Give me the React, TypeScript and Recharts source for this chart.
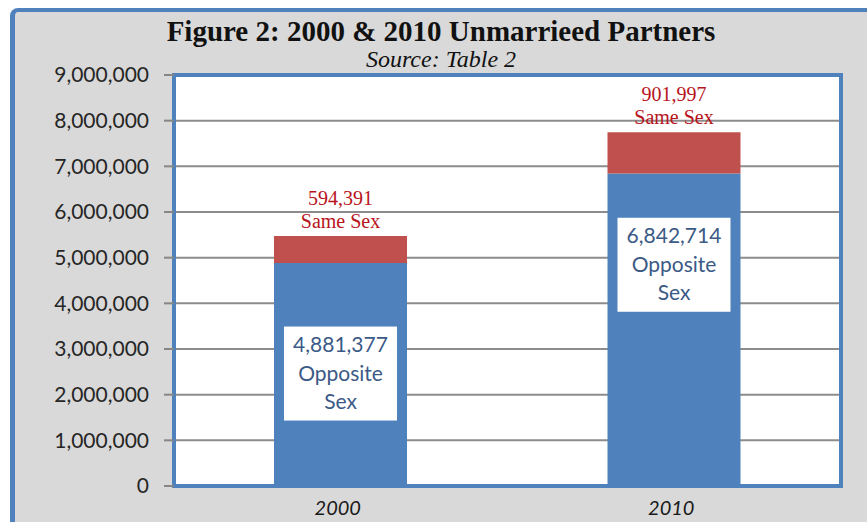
import React from 'react';
import { BarChart, Bar, XAxis, YAxis, CartesianGrid, LabelList, ReferenceArea } from 'recharts';

const categories = ['2000', '2010'];
const oppositeSex = [4881377, 6842714];
const sameSex = [594391, 901997];
const yTicks = [0, 1000000, 2000000, 3000000, 4000000, 5000000, 6000000, 7000000, 8000000, 9000000];

const title = 'Figure 2: 2000 & 2010 Unmarrieed Partners';
const subtitle = 'Source: Table 2';
const sameLabel = 'Same Sex';
const oppositeLabelLines = ['Opposite', 'Sex'];

const data = categories.map((c, i) => ({ year: c, opposite: oppositeSex[i], same: sameSex[i] }));

const BLUE = '#4f81bd';
const RED = '#c0504d';
const SANS = 'Lato, "Open Sans", sans-serif';
const SERIF = '"Liberation Serif", "Times New Roman", serif';
// manual label nudges (style only), per category
const OPP_LABEL_SHIFT = [-1, -65];

const fmt = (v: number) => Number(v).toLocaleString('en-US');

const OppositeLabel = (props: any) => {
  const { x, y, width, height, value, index } = props;
  const cx = Number(x) + Number(width) / 2;
  const cy = Number(y) + Number(height) / 2 + (OPP_LABEL_SHIFT[index] || 0);
  const bw = 113;
  const bh = 94;
  return (
    <g>
      <rect x={cx - bw / 2} y={cy - bh / 2} width={bw} height={bh} fill="#ffffff" />
      <text x={cx} y={cy - 21.5} textAnchor="middle" fontFamily={SANS} fontSize={21} fill="#3b5a86">
        {fmt(value)}
      </text>
      <text x={cx} y={cy + 7.5} textAnchor="middle" fontFamily={SANS} fontSize={21} fill="#3b5a86">
        {oppositeLabelLines[0]}
      </text>
      <text x={cx} y={cy + 35.5} textAnchor="middle" fontFamily={SANS} fontSize={21} fill="#3b5a86">
        {oppositeLabelLines[1]}
      </text>
    </g>
  );
};

const SameLabel = (props: any) => {
  const { x, y, width, value } = props;
  const cx = Number(x) + Number(width) / 2;
  const top = Number(y);
  return (
    <g>
      <text x={cx} y={top - 31} textAnchor="middle" fontFamily={SERIF} fontSize={20} fill="#b8141c">
        {fmt(value)}
      </text>
      <text x={cx} y={top - 8} textAnchor="middle" fontFamily={SERIF} fontSize={20} fill="#b8141c">
        {sameLabel}
      </text>
    </g>
  );
};

const XTick = (props: any) => {
  const { x, y, payload } = props;
  return (
    <text x={Number(x) - 3} y={Number(y) + 29} textAnchor="middle" fontFamily={SANS} fontStyle="italic" fontSize={20} fill="#1a1a1a">
      {payload.value}
    </text>
  );
};

export default function App() {
  return (
    <div style={{ position: 'absolute', left: 0, top: 0, width: 867, height: 522, overflow: 'hidden', background: '#ffffff' }}>
      <div
        style={{
          position: 'absolute',
          left: 10,
          top: 8,
          width: 900,
          height: 600,
          background: '#d9d9d9',
          borderLeft: `5px solid ${BLUE}`,
          borderTop: `4px solid ${BLUE}`,
          borderTopLeftRadius: 8,
        }}
      />
      <div style={{ position: 'absolute', left: 0, top: 0 }}>
        <BarChart width={867} height={522} data={data} margin={{ top: 75, right: 26, bottom: 6, left: 0 }}>
          <CartesianGrid vertical={false} stroke="#8c8c8c" strokeWidth={2} fill="#ffffff" fillOpacity={1} />
          <YAxis
            width={174}
            domain={[0, 9000000]}
            ticks={yTicks}
            interval={0}
            tickFormatter={fmt}
            axisLine={false}
            tickSize={10}
            tickMargin={15}
            tickLine={{ stroke: '#868686', strokeWidth: 2 }}
            tick={{ fontFamily: SANS, fontSize: 21, fill: '#262626' }}
          />
          <XAxis
            dataKey="year"
            height={30}
            axisLine={false}
            tickLine={false}
            tickSize={0}
            tickMargin={0}
            tick={<XTick />}
          />
          <Bar dataKey="opposite" stackId="a" fill={BLUE} barSize={133} isAnimationActive={false}>
            <LabelList dataKey="opposite" content={<OppositeLabel />} />
          </Bar>
          <Bar dataKey="same" stackId="a" fill={RED} barSize={133} isAnimationActive={false}>
            <LabelList dataKey="same" content={<SameLabel />} />
          </Bar>
          <ReferenceArea y1={0} y2={9000000} fill="none" fillOpacity={0} stroke={BLUE} strokeWidth={4} ifOverflow="visible" />
        </BarChart>
      </div>
      <svg width={867} height={90} style={{ position: 'absolute', left: 0, top: 0, pointerEvents: 'none' }}>
        <text x={441} y={41} textAnchor="middle" fontFamily={SERIF} fontWeight="bold" fontSize={29} fill="#111111">
          {title}
        </text>
        <text x={441} y={67} textAnchor="middle" fontFamily={SERIF} fontStyle="italic" fontSize={24} fill="#111111">
          {subtitle}
        </text>
      </svg>
    </div>
  );
}
